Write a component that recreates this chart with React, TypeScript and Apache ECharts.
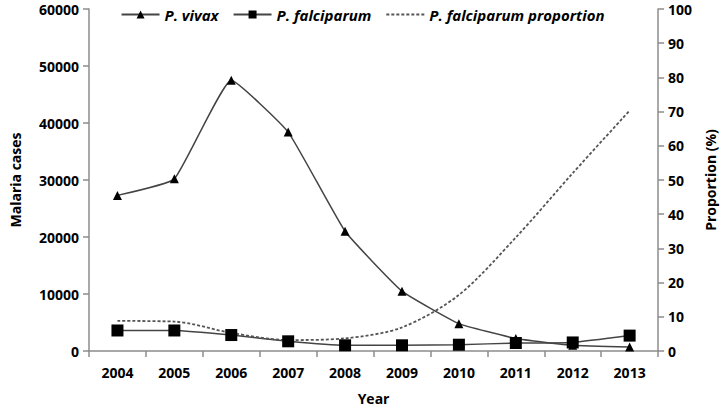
import React, { useEffect, useRef } from "react";
import * as echarts from "echarts";

const years = ["2004", "2005", "2006", "2007", "2008", "2009", "2010", "2011", "2012", "2013"];
const vivax = [27300, 30200, 47500, 38400, 21000, 10500, 4800, 2200, 1000, 700];
const falciparum = [3600, 3600, 2800, 1700, 1000, 1000, 1100, 1400, 1500, 2700];
const proportion = [8.8, 8.6, 5.3, 3.2, 3.7, 6.9, 16.4, 33.2, 52, 70.3];

const FONT = "'Open Sans', Lato, sans-serif";

export default function App() {
  const ref = useRef<HTMLDivElement>(null);
  useEffect(() => {
    const chart = echarts.init(ref.current!, null, { renderer: "svg" });
    const axisLine = { show: true, lineStyle: { color: "#8c8c8c", width: 1.5 } };
    const labelStyle = { color: "#000", fontWeight: 700, fontSize: 14, fontFamily: FONT };
    chart.setOption({
      animation: false,
      backgroundColor: "#fff",
      grid: { left: 80, right: 60, top: 9, bottom: 50 },
      legend: {
        top: 2,
        left: "center",
        itemWidth: 38,
        itemHeight: 10,
        itemGap: 14,
        textStyle: { color: "#000", fontStyle: "italic", fontWeight: 700, fontSize: 15, fontFamily: FONT },
        data: [
          { name: "P. vivax" },
          { name: "P. falciparum" },
          { name: "P. falciparum proportion", itemStyle: { opacity: 0 } },
        ],
      },
      xAxis: {
        type: "category",
        data: years,
        boundaryGap: true,
        axisLine,
        axisTick: { show: true, length: 6, lineStyle: { color: "#8c8c8c", width: 1.5 } },
        axisLabel: { ...labelStyle, margin: 14 },
        name: "Year",
        nameLocation: "middle",
        nameGap: 40,
        nameTextStyle: { ...labelStyle },
      },
      yAxis: [
        {
          type: "value",
          min: 0,
          max: 60000,
          interval: 10000,
          axisLine,
          axisTick: { show: true, length: 6, lineStyle: { color: "#8c8c8c", width: 1.5 } },
          splitLine: { show: false },
          axisLabel: { ...labelStyle, margin: 10, formatter: (v: number) => String(v) },
          name: "Malaria cases",
          nameLocation: "middle",
          nameGap: 67,
          nameTextStyle: { ...labelStyle },
        },
        {
          type: "value",
          min: 0,
          max: 100,
          interval: 10,
          position: "right",
          axisLine,
          axisTick: { show: true, length: 6, lineStyle: { color: "#8c8c8c", width: 1.5 } },
          splitLine: { show: false },
          axisLabel: { ...labelStyle, margin: 10, formatter: (v: number) => String(v) },
          name: "Proportion (%)",
          nameLocation: "middle",
          nameGap: 44,
          nameRotate: 90,
          nameTextStyle: { ...labelStyle },
        },
      ],
      series: [
        {
          name: "P. vivax",
          type: "line",
          data: vivax,
          smooth: 0.12,
          symbol: "triangle",
          symbolSize: 9,
          itemStyle: { color: "#000" },
          lineStyle: { color: "#444", width: 1.5 },
        },
        {
          name: "P. falciparum",
          type: "line",
          data: falciparum,
          smooth: 0.15,
          symbol: "rect",
          symbolSize: 12,
          itemStyle: { color: "#000" },
          lineStyle: { color: "#444", width: 1.5 },
        },
        {
          name: "P. falciparum proportion",
          type: "line",
          yAxisIndex: 1,
          data: proportion,
          smooth: 0.3,
          symbol: "none",
          itemStyle: { color: "#444" },
          lineStyle: { color: "#555", width: 1.8, type: [3, 2] },
        },
      ],
    });
    return () => chart.dispose();
  }, []);
  return <div ref={ref} style={{ width: 725, height: 410, position: "absolute", left: 0, top: 0 }} />;
}
